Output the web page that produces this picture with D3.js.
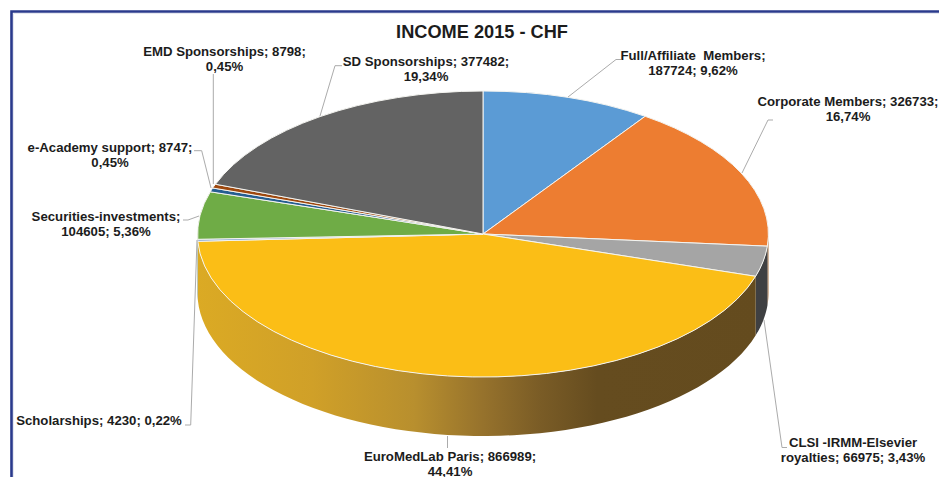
<!DOCTYPE html>
<html><head><meta charset="utf-8">
<script src="https://cdn.jsdelivr.net/npm/d3@7"></script>
<style>html,body{margin:0;padding:0;background:#fff}svg{display:block}text{font-family:"Liberation Sans",Arial,sans-serif;font-weight:700;fill:#1c1c1c;white-space:pre}</style>
</head><body><svg id="c" width="939" height="477"></svg>
<script>
const titleText = "INCOME 2015 - CHF";
const categories = ["Full/Affiliate Members","Corporate Members","CLSI -IRMM-Elsevier royalties","EuroMedLab Paris","Scholarships","Securities-investments","e-Academy support","EMD Sponsorships","SD Sponsorships"];
const values = [187724,326733,66975,866989,4230,104605,8747,8798,377482];
const topColors = ["#5b9bd5","#ed7d31","#a5a5a5","#fbbe16","#7f9fd0","#6fac46","#255e91","#9e480e","#636363"];
const sideColors = ["#36607f","#a8703f","#3f4042","url(#wall)","#5a6f90","#4d7a30","#1a4265","#6e320a","#444444"];
const labelLines = [
 ["Full/Affiliate  Members;","187724; 9,62%"],
 ["Corporate Members; 326733;","16,74%"],
 ["CLSI -IRMM-Elsevier","royalties; 66975; 3,43%"],
 ["EuroMedLab Paris; 866989;","44,41%"],
 ["Scholarships; 4230; 0,22%"],
 ["Securities-investments;","104605; 5,36%"],
 ["e-Academy support; 8747;","0,45%"],
 ["EMD Sponsorships; 8798;","0,45%"],
 ["SD Sponsorships; 377482;","19,34%"]];
const labelAnchors = [[693,60],[848,106],[853,447],[450,461],[99,425],[106,221],[110,152],[224.5,56],[426,66]];
const leaders = [
 [[568,97],[616,59.5],[621,59.5]],
 [[742,173],[768,120],[773,120]],
 [[764,320],[782,447.5],[787,447.5]],
 [[447.5,436],[447.5,448]],
 [[197,240],[190.7,425],[185,425]],
 [[199,216],[188,220],[183,220]],
 [[211,188],[201.7,150.7],[194,150.7]],
 [[213.3,184],[213.3,74]],
 [[320,116],[335,65.7],[342,65.7]]];
const wallStops = [[0,"#dbaa24"],[0.2,"#d0a028"],[0.38,"#b88f2e"],[0.5,"#96722c"],[0.6,"#7a5c26"],[0.7,"#654c1f"],[1,"#644b1e"]];

const svg = d3.select("#c");
const cx = 483, cy = 234, rx = 285.5, ry = 143, depth = 59;
const sx = d3.scaleLinear().domain([-1,1]).range([cx-rx,cx+rx]);
const sy = d3.scaleLinear().domain([-1,1]).range([cy-ry,cy+ry]);

const defs = svg.append("defs");
const g = defs.append("linearGradient").attr("id","wall").attr("gradientUnits","userSpaceOnUse")
  .attr("x1",cx-rx).attr("x2",cx+rx).attr("y1",0).attr("y2",0);
g.selectAll("stop").data(wallStops).join("stop").attr("offset",d=>d[0]).attr("stop-color",d=>d[1]);

// frame
svg.append("path").attr("d","M11.5,477V11.5H939").attr("fill","none").attr("stroke","#2a3a8c").attr("stroke-width",2.6);
svg.append("path").attr("d","M13.5,477V13.5H939").attr("fill","none").attr("stroke","#e6e8f0").attr("stroke-width",1);

const arcs = d3.pie().sort(null).value(d=>d)(values);
const HALF = Math.PI/2;
const pt = (a,dy=0)=>[sx(Math.sin(a)), sy(-Math.cos(a))+dy];
const line = d3.line();

// side walls on the front half
svg.append("g").selectAll("path").data(arcs).join("path")
 .attr("d",d=>{
   const a0=Math.max(d.startAngle,HALF), a1=Math.min(d.endAngle,3*HALF);
   if(a1<=a0) return null;
   const as=d3.range(0,61).map(i=>a0+(a1-a0)*i/60);
   return line([...as.map(a=>pt(a,0)),...as.slice().reverse().map(a=>pt(a,depth))])+"Z";
 })
 .attr("fill",(d,i)=>sideColors[i]);

// top face
const arc = d3.arc().innerRadius(0).outerRadius(1);
svg.append("g").attr("transform",`translate(${cx},${cy}) scale(${rx},${ry})`)
 .selectAll("path").data(arcs).join("path")
 .attr("d",arc).attr("fill",(d,i)=>topColors[i])
 .attr("stroke","#f4f4f0").attr("stroke-width",1).attr("vector-effect","non-scaling-stroke").attr("stroke-linejoin","round");

// leader lines
svg.append("g").selectAll("path").data(leaders).join("path")
 .attr("d",d=>line(d)).attr("fill","none").attr("stroke","#ababab").attr("stroke-width",1);

// labels
svg.append("text").attr("x",482).attr("y",38).attr("text-anchor","middle").attr("font-size",18.2).text(titleText);
const lab = svg.append("g").selectAll("text").data(labelLines).join("text")
 .attr("font-size",13.2).attr("text-anchor","middle");
lab.each(function(lines,i){
  d3.select(this).selectAll("tspan").data(lines).join("tspan")
   .attr("x",labelAnchors[i][0]).attr("y",(l,j)=>labelAnchors[i][1]+j*15).text(l=>l);
});
</script></body></html>
